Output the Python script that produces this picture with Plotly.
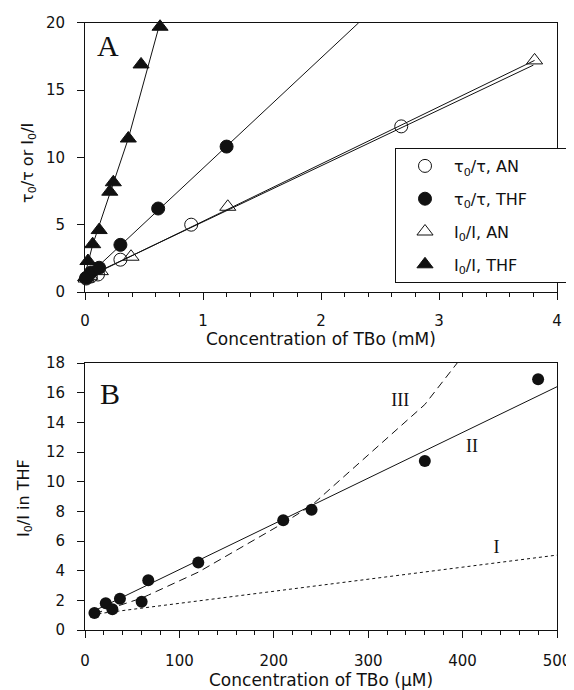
import plotly.graph_objects as go

# ---------------- Panel A data (concentration in mM) ----------------
a_tau_an_x = [0.01, 0.05, 0.11, 0.30, 0.90, 2.68]
a_tau_an_y = [1.0, 1.15, 1.3, 2.4, 5.0, 12.3]

a_tau_thf_x = [0.01, 0.05, 0.12, 0.30, 0.62, 1.20]
a_tau_thf_y = [1.05, 1.45, 1.8, 3.5, 6.2, 10.8]

a_i_an_x = [0.01, 0.04, 0.13, 0.39, 1.21, 3.81]
a_i_an_y = [1.0, 1.2, 1.55, 2.62, 6.33, 17.2]

a_i_thf_x = [0.005, 0.025, 0.065, 0.12, 0.21, 0.24, 0.367, 0.475, 0.636]
a_i_thf_y = [1.1, 2.3, 3.55, 4.6, 7.45, 8.15, 11.4, 16.9, 19.7]

# fitted lines
a_fit_tau_an_x = [0.0, 3.80]
a_fit_tau_an_y = [1.05, 16.85]
a_fit_tau_thf_x = [0.0, 2.32]
a_fit_tau_thf_y = [1.0, 20.0]
a_fit_i_an_x = [0.0, 3.81]
a_fit_i_an_y = [1.0, 17.2]
a_fit_i_thf_x = [0.0, 0.065, 0.367, 0.636]
a_fit_i_thf_y = [1.3, 3.5, 11.4, 20.0]

# ---------------- Panel B data (concentration in uM) ----------------
b_conc = [10, 22, 29, 37, 60, 67, 120, 210, 240, 360, 480]
b_i0i = [1.15, 1.8, 1.4, 2.1, 1.9, 3.35, 4.55, 7.4, 8.1, 11.4, 16.9]

b_curve1_x = [8, 500]
b_curve1_y = [1.05, 5.05]
b_curve2_x = [10, 500]
b_curve2_y = [1.3, 16.4]
b_curve3_x = [10, 22, 29, 37, 60, 67, 120, 210, 240, 360, 480]
b_curve3_y = [1.1, 1.35, 1.5, 1.65, 2.15, 2.35, 3.9, 7.2, 8.4, 15.2, 25.0]

b_labels = ["III", "II", "I"]
b_label_x = [334, 410, 436]
b_label_y = [15.4, 12.3, 5.5]

# page is 574x690; the browser body has an 8px margin
PAGE_W, PAGE_H, OFF = 574, 690, 8
W, H = PAGE_W - OFF, PAGE_H - OFF


def px(x):
    return (x - OFF) / W


def py(y):
    return 1 - (y - OFF) / H


SANS = "DejaVu Sans"
SERIF = "Liberation Serif"
INK = "#111111"

fig = go.Figure()

line_style = dict(color=INK, width=1)

# Panel A lines
for lx, ly in [(a_fit_tau_an_x, a_fit_tau_an_y), (a_fit_tau_thf_x, a_fit_tau_thf_y),
               (a_fit_i_an_x, a_fit_i_an_y), (a_fit_i_thf_x, a_fit_i_thf_y)]:
    fig.add_trace(go.Scatter(x=lx, y=ly, mode="lines", line=line_style,
                             showlegend=False, hoverinfo="skip", xaxis="x", yaxis="y"))

PAD = "\u00a0" * 7
# Panel A markers
series_a = [
    (a_tau_an_x, a_tau_an_y, "circle-open", 13, "τ<sub>0</sub>/τ, AN"),
    (a_tau_thf_x, a_tau_thf_y, "circle", 13, "τ<sub>0</sub>/τ, THF" + PAD),
    (a_i_an_x, a_i_an_y, "triangle-up-open", 14, "I<sub>0</sub>/I, AN"),
    (a_i_thf_x, a_i_thf_y, "triangle-up", 14, "I<sub>0</sub>/I, THF" + PAD),
]
for i, (sx, sy, sym, sz, name) in enumerate(series_a):
    fig.add_trace(go.Scatter(
        x=sx, y=sy, mode="markers", name=name, legendgroup=f"g{i}",
        marker=dict(symbol=sym, size=sz, color=INK, line=dict(color=INK, width=1)),
        cliponaxis=False, xaxis="x", yaxis="y"))

# Panel B curves
fig.add_trace(go.Scatter(x=b_curve1_x, y=b_curve1_y, mode="lines",
                         line=dict(color=INK, width=1, dash="dot"),
                         showlegend=False, xaxis="x2", yaxis="y2"))
fig.add_trace(go.Scatter(x=b_curve2_x, y=b_curve2_y, mode="lines",
                         line=dict(color=INK, width=1),
                         showlegend=False, xaxis="x2", yaxis="y2"))
fig.add_trace(go.Scatter(x=b_curve3_x, y=b_curve3_y, mode="lines",
                         line=dict(color=INK, width=1, dash="8px,5px"),
                         showlegend=False, xaxis="x2", yaxis="y2"))
fig.add_trace(go.Scatter(x=b_conc, y=b_i0i, mode="markers",
                         marker=dict(symbol="circle", size=12, color=INK),
                         cliponaxis=False, showlegend=False, xaxis="x2", yaxis="y2"))
fig.add_trace(go.Scatter(x=b_label_x, y=b_label_y, mode="text", text=b_labels,
                         textfont=dict(family=SERIF, size=18, color=INK),
                         showlegend=False, xaxis="x2", yaxis="y2"))

xdom = [px(85), px(557)]
ya_dom = [py(292), py(22.7)]
yb_dom = [py(630), py(363)]

tickfont = dict(family=SANS, size=15, color=INK)
common = dict(showline=True, linecolor=INK, linewidth=1, mirror=True,
              ticks="outside", tickcolor=INK, ticklen=7, tickwidth=1,
              showgrid=False, zeroline=False, tickfont=tickfont, automargin=False)


def note(text, x, y, font, angle=0):
    return dict(text=text, x=px(x), y=py(y), xref="paper", yref="paper",
                xanchor="center", yanchor="middle", showarrow=False,
                textangle=angle, font=font)


title_font = dict(family=SANS, size=17, color=INK)
ytitle_font = dict(family=SANS, size=16, color=INK)
letter_font = dict(family=SERIF, size=30, color=INK)

fig.update_layout(
    width=W, height=H,
    margin=dict(l=0, r=0, t=0, b=0, autoexpand=False),
    paper_bgcolor="white", plot_bgcolor="white",
    font=dict(family=SANS, color=INK),
    xaxis=dict(domain=xdom, range=[0, 4], dtick=1, anchor="y",
               minor=dict(dtick=0.2, ticks="outside", ticklen=4, tickcolor=INK),
               ticklabelstandoff=8, **common),
    yaxis=dict(domain=ya_dom, range=[0, 20], dtick=5, anchor="x",
               ticklabelstandoff=9, **common),
    xaxis2=dict(domain=xdom, range=[0, 500], dtick=100, anchor="y2",
                minor=dict(dtick=20, ticks="outside", ticklen=4, tickcolor=INK),
                ticklabelstandoff=10, **common),
    yaxis2=dict(domain=yb_dom, range=[0, 18], dtick=2, anchor="x2",
                ticklabelstandoff=9, **common),
    legend=dict(x=px(395), y=py(148), xanchor="left", yanchor="top",
                bordercolor=INK, borderwidth=1, bgcolor="white",
                font=dict(family=SANS, size=16, color=INK),
                tracegroupgap=9, itemwidth=48),
    showlegend=True,
    annotations=[
        note("Concentration of TBo (mM)", 321, 339, title_font),
        note("Concentration of TBo (μM)", 321, 680, title_font),
        note("τ<sub>0</sub>/τ or I<sub>0</sub>/I", 28, 163, ytitle_font, -90),
        note("I<sub>0</sub>/I in THF", 24, 498, ytitle_font, -90),
        note("A", 108, 46, letter_font),
        note("B", 110, 393, letter_font),
    ],
)

fig.write_html("out.html")
